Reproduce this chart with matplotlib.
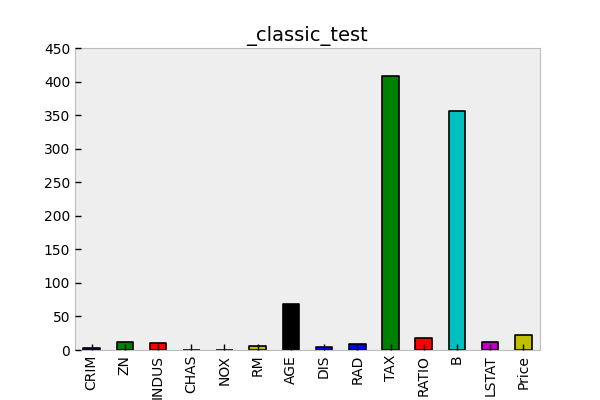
import matplotlib
matplotlib.use("Agg")
import matplotlib.pyplot as plt
import numpy as np

# column means of the housing data
features = ["CRIM", "ZN", "INDUS", "CHAS", "NOX", "RM", "AGE", "DIS",
            "RAD", "TAX", "RATIO", "B", "LSTAT", "Price"]
means = [3.61, 11.36, 11.14, 0.07, 0.55, 6.28, 68.57, 3.80,
         9.55, 408.24, 18.46, 356.67, 12.65, 22.53]
bar_colors = ["b", "g", "r", "c", "m", "y", "k", "b",
              "b", "g", "r", "c", "m", "y"]

fig = plt.figure(figsize=(6, 4), dpi=100)
ax = fig.add_axes([0.125, 0.125, 0.775, 0.755])
ax.set_facecolor("#EEEEEE")
for side in ["left", "right", "top", "bottom"]:
    ax.spines[side].set_color("#BCBCBC")

x = np.arange(len(features))
ax.bar(x, means, width=0.5, color=bar_colors, edgecolor="k",
       linewidth=1.2, joinstyle="round", zorder=1)

ax.set_xlim(-0.5, len(features) - 0.5)
ax.set_ylim(0, 450)
ax.set_yticks(np.arange(0, 451, 50))
ax.set_xticks(x)
ax.set_xticklabels(features, rotation=90)
ax.tick_params(direction="in", length=4, width=1, color="k",
               labelsize=10, top=False, right=False)
ax.set_axisbelow(False)
ax.set_title("_classic_test", fontsize=14, pad=5)

fig.savefig("out.png", dpi=100)
